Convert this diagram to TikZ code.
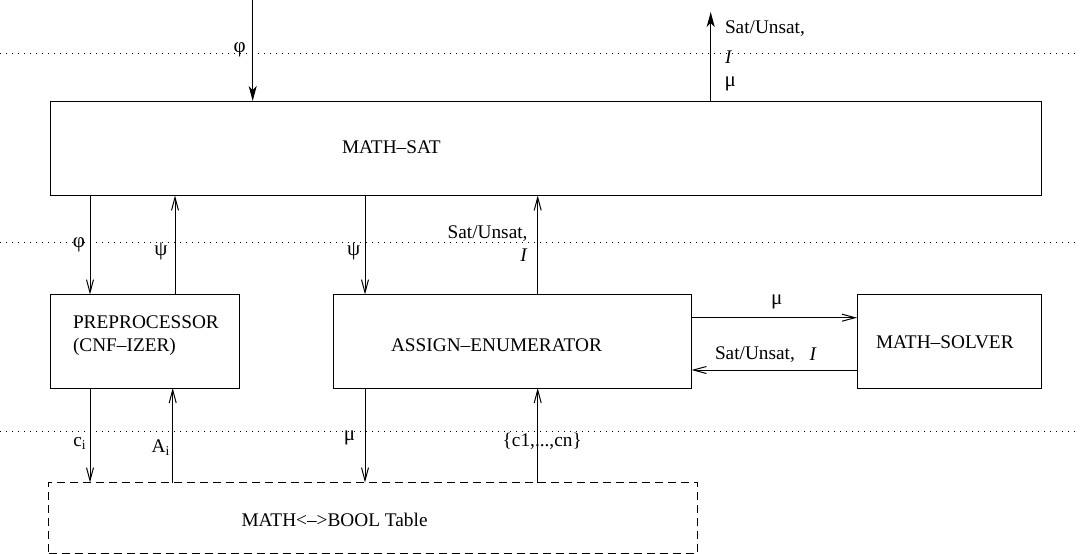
\documentclass[tikz,border=0pt]{standalone}
\usepackage{fontspec}
\setmainfont{Liberation Serif}
\usetikzlibrary{arrows.meta}
\begin{document}
\begin{tikzpicture}[x=1pt,y=-1pt,
  every node/.style={inner sep=0pt, outer sep=0pt, font=\fontsize{19.3}{23}\selectfont},
  greek/.style={font=\fontsize{21}{24}\selectfont},
  box/.style={draw, line width=1pt, rectangle},
  dashbox/.style={draw, line width=1pt, dash pattern=on 8pt off 5pt},
  guide/.style={line width=1pt, dash pattern=on 1pt off 5pt},
  conn/.style={line width=1pt, -{Straight Barb[length=13pt,width=7pt,line width=1pt]}},
  bold/.style={line width=1.2pt, -{Stealth[length=15pt,width=8pt,inset=4pt]}},
  lbl/.style={anchor=base west}
]
\useasboundingbox (0,0) rectangle (1080,554);

% guide lines
\coordinate (g1l) at (0,53);   \coordinate (g1r) at (1080,53);
\coordinate (g2l) at (0,242);  \coordinate (g2r) at (1080,242);
\coordinate (g3l) at (0,431);  \coordinate (g3r) at (1080,431);
\draw[guide] (g1l) -- (g1r);
\draw[guide] (g2l) -- (g2r);
\draw[guide] (g3l) -- (g3r);

% boxes
\node[box, minimum width=991pt, minimum height=94.5pt, anchor=north west] (sat) at (50,101) {};
\node[box, minimum width=189pt, minimum height=93.5pt, anchor=north west] (pre) at (50,294.5) {};
\node[box, minimum width=358.5pt, minimum height=93.5pt, anchor=north west] (enum) at (333,294.5) {};
\node[box, minimum width=184pt, minimum height=93.5pt, anchor=north west] (solver) at (857,294.5) {};
\node[dashbox, minimum width=649pt, minimum height=70.5pt, anchor=north west] (tab) at (48.5,482.5) {};

% box texts
\node[lbl] (tsat) at (342,153) {MATH–SAT};
\node[lbl] (tpre1) at (73,328) {PREPROCESSOR};
\node[lbl] (tpre2) at (73,351.5) {(CNF–IZER)};
\node[lbl] (tenum) at (391,351) {ASSIGN–ENUMERATOR};
\node[lbl] (tsol) at (876,348) {MATH–SOLVER};
\node[lbl] (ttab) at (241.5,526) {MATH<–>BOOL Table};

% x positions of connectors
\coordinate (xin) at (252.7,0);
\coordinate (xout) at (710.7,12);
\coordinate (xa) at (90,0);
\coordinate (xb) at (175,0);
\coordinate (xc) at (365,0);
\coordinate (xd) at (537.7,0);
\coordinate (xe) at (172.7,0);
\coordinate (ya) at (0,317.7);
\coordinate (yb) at (0,370);

% top
\draw[bold] (xin) -- (sat.north -| xin);
\draw[bold] (sat.north -| xout) -- (xout);
\node[greek] (lphi0) at (239.7,50) {φ};
\node[lbl] (lout1) at (725,34) {Sat/Unsat,};
\node[lbl] (lout2) at (725,63) {\textit{I}};
\node[lbl, greek] (lout3) at (724.5,86) {μ};

% MATH-SAT <-> lower boxes
\draw[conn] (sat.south -| xa) -- (pre.north -| xa);
\draw[conn] (pre.north -| xb) -- (sat.south -| xb);
\draw[conn] (sat.south -| xc) -- (enum.north -| xc);
\draw[conn] (enum.north -| xd) -- (sat.south -| xd);
\node[greek] (lphi1) at (79,244.5) {φ};
\node[greek] (lpsi1) at (161,251) {ψ};
\node[greek] (lpsi2) at (353.7,251) {ψ};
\node[anchor=base east] (lsu1) at (527.5,238.3) {Sat/Unsat,};
\node[anchor=base east] (li1) at (527.5,261.5) {\textit{I}};

% enumerator <-> solver
\draw[conn] (enum.east |- ya) -- (solver.west |- ya);
\draw[conn] (solver.west |- yb) -- (enum.east |- yb);
\node[greek] (lmu1) at (776.7,302) {μ};
\node[lbl] (lsu2) at (715,359.5) {Sat/Unsat,};
\node[lbl] (li2) at (809.5,360) {\textit{I}};

% lower boxes <-> table
\draw[conn] (pre.south -| xa) -- (tab.north -| xa);
\draw[conn] (tab.north -| xe) -- (pre.south -| xe);
\draw[conn] (enum.south -| xc) -- (tab.north -| xc);
\draw[conn] (tab.north -| xd) -- (enum.south -| xd);
\node[lbl] (lci) at (73.3,446) {c\textsubscript{i}};
\node[lbl] (lai) at (151.7,452.5) {A\textsubscript{i}};
\node[greek] (lmu2) at (349.5,438) {μ};
\node[lbl] (lcn) at (502.7,446) {\{c1,...,cn\}};
\end{tikzpicture}
\end{document}
